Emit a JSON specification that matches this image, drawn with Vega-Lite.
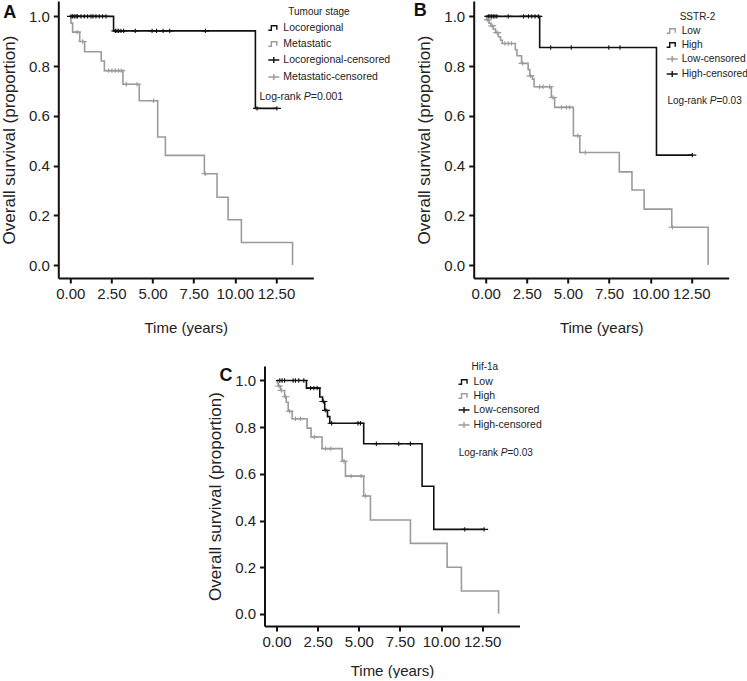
{
  "$schema": "https://vega.github.io/schema/vega-lite/v6.json",
  "padding": {"left": 0, "top": 1, "right": 0, "bottom": 0},
  "background": "white",
  "config": {
    "font": "Liberation Sans",
    "view": {"stroke": null},
    "axis": {"domainColor": "#111", "domainWidth": 2, "tickColor": "#111", "tickWidth": 2, "tickSize": 5, "labelFont": "Liberation Sans", "labelFontSize": 15, "labelColor": "#222", "titleFont": "Liberation Sans", "titleFontWeight": "normal", "titleColor": "#222", "grid": false},
    "axisY": {"titleFontSize": 17, "titlePadding": 10, "labelPadding": 4},
    "axisX": {"titleFontSize": 15, "titlePadding": 19, "labelPadding": 3},
    "legend": {"padding": 0, "titleFont": "Liberation Sans", "titleFontSize": 10, "titleFontWeight": "normal", "titleColor": "#222", "labelFont": "Liberation Sans", "labelFontSize": 10.5, "labelColor": "#222", "symbolSize": 121, "symbolStrokeWidth": 1.4, "labelOffset": 3},
    "title": {"font": "Liberation Sans", "fontSize": 18, "fontWeight": "bold", "color": "#111", "anchor": "start", "frame": "group", "offset": 0, "baseline": "top"}
  },
  "resolve": {"scale": {"color": "independent", "shape": "independent", "stroke": "independent"}, "legend": {"color": "independent", "shape": "independent"}},
  "vconcat": [
    {
      "resolve": {"scale": {"color": "independent", "shape": "independent", "stroke": "independent"}, "legend": {"color": "independent", "shape": "independent"}},
      "hconcat": [
        {
          "width": 255, "height": 277,
          "title": {"text": "A", "dx": -55, "dy": 25},
          "encoding": {
            "x": {"field": "time", "type": "quantitative", "title": "Time (years)", "scale": {"domain": [-0.73, 14.77], "nice": false, "zero": false}, "axis": {"values": [0, 2.5, 5, 7.5, 10, 12.5], "format": ".2f"}},
            "y": {"field": "surv", "type": "quantitative", "title": "Overall survival (proportion)", "scale": {"domain": [-0.052, 1.062], "nice": false, "zero": false}, "axis": {"values": [0, 0.2, 0.4, 0.6, 0.8, 1], "format": ".1f"}}
          },
          "layer": [
            {
              "data": {"values": [
                {"series": "Metastatic", "time": 0, "surv": 1}, {"series": "Metastatic", "time": 0.04, "surv": 0.973}, {"series": "Metastatic", "time": 0.14, "surv": 0.937}, {"series": "Metastatic", "time": 0.57, "surv": 0.899}, {"series": "Metastatic", "time": 0.87, "surv": 0.858}, {"series": "Metastatic", "time": 1.88, "surv": 0.821}, {"series": "Metastatic", "time": 2.07, "surv": 0.782}, {"series": "Metastatic", "time": 3.2, "surv": 0.727}, {"series": "Metastatic", "time": 4.19, "surv": 0.661}, {"series": "Metastatic", "time": 5.31, "surv": 0.515}, {"series": "Metastatic", "time": 5.78, "surv": 0.441}, {"series": "Metastatic", "time": 8.15, "surv": 0.367}, {"series": "Metastatic", "time": 8.92, "surv": 0.273}, {"series": "Metastatic", "time": 9.59, "surv": 0.182}, {"series": "Metastatic", "time": 10.4, "surv": 0.091}, {"series": "Metastatic", "time": 13.51, "surv": 0},
                {"series": "Locoregional", "time": 0, "surv": 1}, {"series": "Locoregional", "time": 2.63, "surv": 0.942}, {"series": "Locoregional", "time": 11.25, "surv": 0.63}, {"series": "Locoregional", "time": 12.56, "surv": 0.63}
              ]},
              "mark": {"type": "line", "interpolate": "step-after", "strokeWidth": 1.6},
              "encoding": {"stroke": {"field": "series", "type": "nominal", "scale": {"domain": ["Locoregional", "Metastatic"], "range": ["#111111", "#9b9b9b"]}, "legend": null}}
            },
            {
              "data": {"values": [
                {"series": "Locoregional-censored", "time": 0.04, "surv": 1}, {"series": "Locoregional-censored", "time": 0.14, "surv": 1}, {"series": "Locoregional-censored", "time": 0.24, "surv": 1}, {"series": "Locoregional-censored", "time": 0.35, "surv": 1}, {"series": "Locoregional-censored", "time": 0.44, "surv": 1}, {"series": "Locoregional-censored", "time": 0.65, "surv": 1}, {"series": "Locoregional-censored", "time": 0.85, "surv": 1}, {"series": "Locoregional-censored", "time": 1.05, "surv": 1}, {"series": "Locoregional-censored", "time": 1.26, "surv": 1}, {"series": "Locoregional-censored", "time": 1.38, "surv": 1}, {"series": "Locoregional-censored", "time": 1.56, "surv": 1}, {"series": "Locoregional-censored", "time": 1.76, "surv": 1}, {"series": "Locoregional-censored", "time": 1.96, "surv": 1}, {"series": "Locoregional-censored", "time": 2.17, "surv": 1},
                {"series": "Locoregional-censored", "time": 2.74, "surv": 0.942}, {"series": "Locoregional-censored", "time": 2.84, "surv": 0.942}, {"series": "Locoregional-censored", "time": 2.94, "surv": 0.942}, {"series": "Locoregional-censored", "time": 3.08, "surv": 0.942}, {"series": "Locoregional-censored", "time": 3.24, "surv": 0.942}, {"series": "Locoregional-censored", "time": 3.95, "surv": 0.942}, {"series": "Locoregional-censored", "time": 4.97, "surv": 0.942}, {"series": "Locoregional-censored", "time": 5.24, "surv": 0.942}, {"series": "Locoregional-censored", "time": 5.64, "surv": 0.942}, {"series": "Locoregional-censored", "time": 6.04, "surv": 0.942}, {"series": "Locoregional-censored", "time": 8.21, "surv": 0.942},
                {"series": "Locoregional-censored", "time": 11.35, "surv": 0.63}, {"series": "Locoregional-censored", "time": 12.56, "surv": 0.63},
                {"series": "Metastatic-censored", "time": 0.41, "surv": 0.937}, {"series": "Metastatic-censored", "time": 0.75, "surv": 0.899}, {"series": "Metastatic-censored", "time": 2.33, "surv": 0.782}, {"series": "Metastatic-censored", "time": 2.53, "surv": 0.782}, {"series": "Metastatic-censored", "time": 2.74, "surv": 0.782}, {"series": "Metastatic-censored", "time": 2.94, "surv": 0.782}, {"series": "Metastatic-censored", "time": 3.1, "surv": 0.782}, {"series": "Metastatic-censored", "time": 3.4, "surv": 0.727}, {"series": "Metastatic-censored", "time": 4.05, "surv": 0.727}, {"series": "Metastatic-censored", "time": 5.06, "surv": 0.661}, {"series": "Metastatic-censored", "time": 8.2, "surv": 0.367}
              ]},
              "mark": {"type": "point", "filled": false, "size": 64, "strokeWidth": 1.1, "opacity": 1},
              "encoding": {
                "color": {"field": "series", "type": "nominal", "scale": {"domain": ["Locoregional", "Metastatic", "Locoregional-censored", "Metastatic-censored"], "range": ["#111111", "#9b9b9b", "#111111", "#9b9b9b"]}, "legend": {"title": "\u2800\u2800\u2800Tumour stage", "orient": "none", "legendX": 209, "legendY": 5.5, "rowPadding": 4, "titlePadding": 5}},
                "shape": {"field": "series", "type": "nominal", "scale": {"domain": ["Locoregional", "Metastatic", "Locoregional-censored", "Metastatic-censored"], "range": ["M-1,0.4H-0.45V-0.4H0.55V0.3", "M-1,0.4H-0.45V-0.4H0.55V0.3", "M-1,0H1M0,-0.55V0.55", "M-1,0H1M0,-0.55V0.55"]}, "legend": {"title": "\u2800\u2800\u2800Tumour stage", "orient": "none", "legendX": 209, "legendY": 5.5, "rowPadding": 4, "titlePadding": 5}}
              }
            },
            {"data": {"values": [{"time": 11.5, "surv": 0.677}]}, "mark": {"type": "text", "align": "left", "baseline": "middle", "fontSize": 10.5, "color": "#222"}, "encoding": {"text": {"value": "Log-rank"}}},
            {"data": {"values": [{"time": 11.5, "surv": 0.677}]}, "mark": {"type": "text", "align": "left", "baseline": "middle", "fontSize": 10.5, "fontStyle": "italic", "color": "#222", "dx": 44.3}, "encoding": {"text": {"value": "P"}}},
            {"data": {"values": [{"time": 11.5, "surv": 0.677}]}, "mark": {"type": "text", "align": "left", "baseline": "middle", "fontSize": 10.5, "color": "#222", "dx": 51.3}, "encoding": {"text": {"value": "=0.001"}}}
          ]
        },
        {
          "width": 255, "height": 277,
          "title": {"text": "B", "dx": -60, "dy": 23},
          "encoding": {
            "x": {"field": "time", "type": "quantitative", "title": "Time (years)", "scale": {"domain": [-0.73, 14.77], "nice": false, "zero": false}, "axis": {"values": [0, 2.5, 5, 7.5, 10, 12.5], "format": ".2f"}},
            "y": {"field": "surv", "type": "quantitative", "title": "Overall survival (proportion)", "scale": {"domain": [-0.052, 1.062], "nice": false, "zero": false}, "axis": {"values": [0, 0.2, 0.4, 0.6, 0.8, 1], "format": ".1f"}}
          },
          "layer": [
            {
              "data": {"values": [
                {"series": "Low", "time": 0, "surv": 1}, {"series": "Low", "time": 0.06, "surv": 0.986}, {"series": "Low", "time": 0.2, "surv": 0.973}, {"series": "Low", "time": 0.32, "surv": 0.962}, {"series": "Low", "time": 0.46, "surv": 0.949}, {"series": "Low", "time": 0.6, "surv": 0.935}, {"series": "Low", "time": 0.77, "surv": 0.918}, {"series": "Low", "time": 0.9, "surv": 0.904}, {"series": "Low", "time": 1.01, "surv": 0.891}, {"series": "Low", "time": 1.8, "surv": 0.866}, {"series": "Low", "time": 1.9, "surv": 0.842}, {"series": "Low", "time": 2.18, "surv": 0.811}, {"series": "Low", "time": 2.58, "surv": 0.786}, {"series": "Low", "time": 2.68, "surv": 0.761}, {"series": "Low", "time": 2.84, "surv": 0.748}, {"series": "Low", "time": 2.94, "surv": 0.717}, {"series": "Low", "time": 3.99, "surv": 0.674}, {"series": "Low", "time": 4.19, "surv": 0.634}, {"series": "Low", "time": 5.33, "surv": 0.52}, {"series": "Low", "time": 5.72, "surv": 0.453}, {"series": "Low", "time": 8.12, "surv": 0.375}, {"series": "Low", "time": 8.89, "surv": 0.302}, {"series": "Low", "time": 9.63, "surv": 0.225}, {"series": "Low", "time": 11.31, "surv": 0.152}, {"series": "Low", "time": 13.52, "surv": 0},
                {"series": "High", "time": 0, "surv": 1}, {"series": "High", "time": 3.28, "surv": 0.875}, {"series": "High", "time": 10.38, "surv": 0.442}, {"series": "High", "time": 12.56, "surv": 0.442}
              ]},
              "mark": {"type": "line", "interpolate": "step-after", "strokeWidth": 1.6},
              "encoding": {"stroke": {"field": "series", "type": "nominal", "scale": {"domain": ["Low", "High"], "range": ["#9b9b9b", "#111111"]}, "legend": null}}
            },
            {
              "data": {"values": [
                {"series": "High-censored", "time": 0.16, "surv": 1}, {"series": "High-censored", "time": 0.26, "surv": 1}, {"series": "High-censored", "time": 0.36, "surv": 1}, {"series": "High-censored", "time": 0.46, "surv": 1}, {"series": "High-censored", "time": 0.56, "surv": 1}, {"series": "High-censored", "time": 0.67, "surv": 1}, {"series": "High-censored", "time": 1.37, "surv": 1}, {"series": "High-censored", "time": 2.3, "surv": 1}, {"series": "High-censored", "time": 2.6, "surv": 1}, {"series": "High-censored", "time": 2.8, "surv": 1}, {"series": "High-censored", "time": 3.0, "surv": 1}, {"series": "High-censored", "time": 3.2, "surv": 1},
                {"series": "High-censored", "time": 3.95, "surv": 0.875}, {"series": "High-censored", "time": 5.2, "surv": 0.875}, {"series": "High-censored", "time": 7.48, "surv": 0.875}, {"series": "High-censored", "time": 8.16, "surv": 0.875}, {"series": "High-censored", "time": 12.56, "surv": 0.442},
                {"series": "Low-censored", "time": 0.13, "surv": 0.986}, {"series": "Low-censored", "time": 0.4, "surv": 0.962}, {"series": "Low-censored", "time": 0.7, "surv": 0.935}, {"series": "Low-censored", "time": 1.17, "surv": 0.891}, {"series": "Low-censored", "time": 1.37, "surv": 0.891}, {"series": "Low-censored", "time": 1.57, "surv": 0.891}, {"series": "Low-censored", "time": 2.24, "surv": 0.811}, {"series": "Low-censored", "time": 2.72, "surv": 0.761}, {"series": "Low-censored", "time": 3.28, "surv": 0.717}, {"series": "Low-censored", "time": 3.49, "surv": 0.717}, {"series": "Low-censored", "time": 3.89, "surv": 0.717}, {"series": "Low-censored", "time": 4.09, "surv": 0.674}, {"series": "Low-censored", "time": 4.6, "surv": 0.634}, {"series": "Low-censored", "time": 4.9, "surv": 0.634}, {"series": "Low-censored", "time": 5.1, "surv": 0.634}, {"series": "Low-censored", "time": 5.6, "surv": 0.52}, {"series": "Low-censored", "time": 6.05, "surv": 0.453}, {"series": "Low-censored", "time": 11.35, "surv": 0.152}
              ]},
              "mark": {"type": "point", "filled": false, "size": 64, "strokeWidth": 1.1, "opacity": 1},
              "encoding": {
                "color": {"field": "series", "type": "nominal", "scale": {"domain": ["Low", "High", "Low-censored", "High-censored"], "range": ["#9b9b9b", "#111111", "#9b9b9b", "#111111"]}, "legend": {"title": "\u2800\u2800SSTR-2", "orient": "none", "legendX": 192, "legendY": 11, "rowPadding": 2, "titlePadding": 2.5, "labelFontSize": 10.2}},
                "shape": {"field": "series", "type": "nominal", "scale": {"domain": ["Low", "High", "Low-censored", "High-censored"], "range": ["M-1,0.4H-0.45V-0.4H0.55V0.3", "M-1,0.4H-0.45V-0.4H0.55V0.3", "M-1,0H1M0,-0.55V0.55", "M-1,0H1M0,-0.55V0.55"]}, "legend": {"title": "\u2800\u2800SSTR-2", "orient": "none", "legendX": 192, "legendY": 11, "rowPadding": 2, "titlePadding": 2.5, "labelFontSize": 10.2}}
              }
            },
            {"data": {"values": [{"time": 11.05, "surv": 0.66}]}, "mark": {"type": "text", "align": "left", "baseline": "middle", "fontSize": 10, "color": "#222"}, "encoding": {"text": {"value": "Log-rank"}}},
            {"data": {"values": [{"time": 11.05, "surv": 0.66}]}, "mark": {"type": "text", "align": "left", "baseline": "middle", "fontSize": 10, "fontStyle": "italic", "color": "#222", "dx": 42.2}, "encoding": {"text": {"value": "P"}}},
            {"data": {"values": [{"time": 11.05, "surv": 0.66}]}, "mark": {"type": "text", "align": "left", "baseline": "middle", "fontSize": 10, "color": "#222", "dx": 48.9}, "encoding": {"text": {"value": "=0.03"}}}
          ]
        }
      ],
      "spacing": 160.4,
      "bounds": "flush"
    },
    {
      "width": 255, "height": 260,
      "title": {"text": "C", "dx": -45, "dy": 27},
      "encoding": {
        "x": {"field": "time", "type": "quantitative", "title": "Time (years)", "scale": {"domain": [-0.73, 14.77], "nice": false, "zero": false}, "axis": {"values": [0, 2.5, 5, 7.5, 10, 12.5], "format": ".2f", "titlePadding": 14}},
        "y": {"field": "surv", "type": "quantitative", "title": "Overall survival (proportion)", "scale": {"domain": [-0.052, 1.062], "nice": false, "zero": false}, "axis": {"values": [0, 0.2, 0.4, 0.6, 0.8, 1], "format": ".1f"}}
      },
      "layer": [
        {
          "data": {"values": [
            {"series": "High", "time": 0, "surv": 1}, {"series": "High", "time": 0.04, "surv": 0.99}, {"series": "High", "time": 0.1, "surv": 0.976}, {"series": "High", "time": 0.24, "surv": 0.957}, {"series": "High", "time": 0.49, "surv": 0.93}, {"series": "High", "time": 0.59, "surv": 0.907}, {"series": "High", "time": 0.71, "surv": 0.868}, {"series": "High", "time": 0.95, "surv": 0.836}, {"series": "High", "time": 1.86, "surv": 0.796}, {"series": "High", "time": 2.1, "surv": 0.758}, {"series": "High", "time": 2.77, "surv": 0.708}, {"series": "High", "time": 3.99, "surv": 0.654}, {"series": "High", "time": 4.19, "surv": 0.59}, {"series": "High", "time": 5.3, "surv": 0.505}, {"series": "High", "time": 5.71, "surv": 0.402}, {"series": "High", "time": 8.14, "surv": 0.302}, {"series": "High", "time": 10.37, "surv": 0.2}, {"series": "High", "time": 11.24, "surv": 0.098}, {"series": "High", "time": 13.5, "surv": 0},
            {"series": "Low", "time": 0, "surv": 1}, {"series": "Low", "time": 1.82, "surv": 0.967}, {"series": "Low", "time": 2.63, "surv": 0.929}, {"series": "Low", "time": 2.8, "surv": 0.91}, {"series": "Low", "time": 2.93, "surv": 0.872}, {"series": "Low", "time": 3.1, "surv": 0.845}, {"series": "Low", "time": 3.24, "surv": 0.817}, {"series": "Low", "time": 5.3, "surv": 0.729}, {"series": "Low", "time": 8.85, "surv": 0.547}, {"series": "Low", "time": 9.56, "surv": 0.362}, {"series": "Low", "time": 12.62, "surv": 0.362}
          ]},
          "mark": {"type": "line", "interpolate": "step-after", "strokeWidth": 1.6},
          "encoding": {"stroke": {"field": "series", "type": "nominal", "scale": {"domain": ["Low", "High"], "range": ["#111111", "#9b9b9b"]}, "legend": null}}
        },
        {
          "data": {"values": [
            {"series": "Low-censored", "time": 0.2, "surv": 1}, {"series": "Low-censored", "time": 0.34, "surv": 1}, {"series": "Low-censored", "time": 0.49, "surv": 1}, {"series": "Low-censored", "time": 1.01, "surv": 1}, {"series": "Low-censored", "time": 1.15, "surv": 1}, {"series": "Low-censored", "time": 1.35, "surv": 1}, {"series": "Low-censored", "time": 1.66, "surv": 1},
            {"series": "Low-censored", "time": 2.07, "surv": 0.967}, {"series": "Low-censored", "time": 2.27, "surv": 0.967}, {"series": "Low-censored", "time": 2.47, "surv": 0.967}, {"series": "Low-censored", "time": 2.85, "surv": 0.91}, {"series": "Low-censored", "time": 3.0, "surv": 0.872}, {"series": "Low-censored", "time": 3.35, "surv": 0.817}, {"series": "Low-censored", "time": 4.95, "surv": 0.817}, {"series": "Low-censored", "time": 5.1, "surv": 0.817}, {"series": "Low-censored", "time": 6.07, "surv": 0.729}, {"series": "Low-censored", "time": 7.43, "surv": 0.729}, {"series": "Low-censored", "time": 8.14, "surv": 0.729}, {"series": "Low-censored", "time": 11.44, "surv": 0.362}, {"series": "Low-censored", "time": 12.62, "surv": 0.362},
            {"series": "High-censored", "time": 0.15, "surv": 0.976}, {"series": "High-censored", "time": 0.3, "surv": 0.957}, {"series": "High-censored", "time": 0.55, "surv": 0.93}, {"series": "High-censored", "time": 0.8, "surv": 0.868}, {"series": "High-censored", "time": 1.15, "surv": 0.836}, {"series": "High-censored", "time": 1.46, "surv": 0.836}, {"series": "High-censored", "time": 2.3, "surv": 0.758}, {"series": "High-censored", "time": 2.98, "surv": 0.708}, {"series": "High-censored", "time": 3.3, "surv": 0.708}, {"series": "High-censored", "time": 4.1, "surv": 0.654}, {"series": "High-censored", "time": 4.53, "surv": 0.59}, {"series": "High-censored", "time": 5.14, "surv": 0.59}, {"series": "High-censored", "time": 5.4, "surv": 0.505}
          ]},
          "mark": {"type": "point", "filled": false, "size": 64, "strokeWidth": 1.1, "opacity": 1},
          "encoding": {
            "color": {"field": "series", "type": "nominal", "scale": {"domain": ["Low", "High", "Low-censored", "High-censored"], "range": ["#111111", "#9b9b9b", "#111111", "#9b9b9b"]}, "legend": {"title": "\u2800\u2800Hif-1a", "orient": "none", "legendX": 193, "legendY": -4, "rowPadding": 2, "titlePadding": 3.5}},
            "shape": {"field": "series", "type": "nominal", "scale": {"domain": ["Low", "High", "Low-censored", "High-censored"], "range": ["M-1,0.4H-0.45V-0.4H0.55V0.3", "M-1,0.4H-0.45V-0.4H0.55V0.3", "M-1,0H1M0,-0.55V0.55", "M-1,0H1M0,-0.55V0.55"]}, "legend": {"title": "\u2800\u2800Hif-1a", "orient": "none", "legendX": 193, "legendY": -4, "rowPadding": 2, "titlePadding": 3.5}}
          }
        },
        {"data": {"values": [{"time": 11.07, "surv": 0.69}]}, "mark": {"type": "text", "align": "left", "baseline": "middle", "fontSize": 10, "color": "#222"}, "encoding": {"text": {"value": "Log-rank"}}},
        {"data": {"values": [{"time": 11.07, "surv": 0.69}]}, "mark": {"type": "text", "align": "left", "baseline": "middle", "fontSize": 10, "fontStyle": "italic", "color": "#222", "dx": 42.2}, "encoding": {"text": {"value": "P"}}},
        {"data": {"values": [{"time": 11.07, "surv": 0.69}]}, "mark": {"type": "text", "align": "left", "baseline": "middle", "fontSize": 10, "color": "#222", "dx": 48.9}, "encoding": {"text": {"value": "=0.03"}}}
      ]
    }
  ],
  "spacing": 27,
  "center": true,
  "bounds": "full"
}
